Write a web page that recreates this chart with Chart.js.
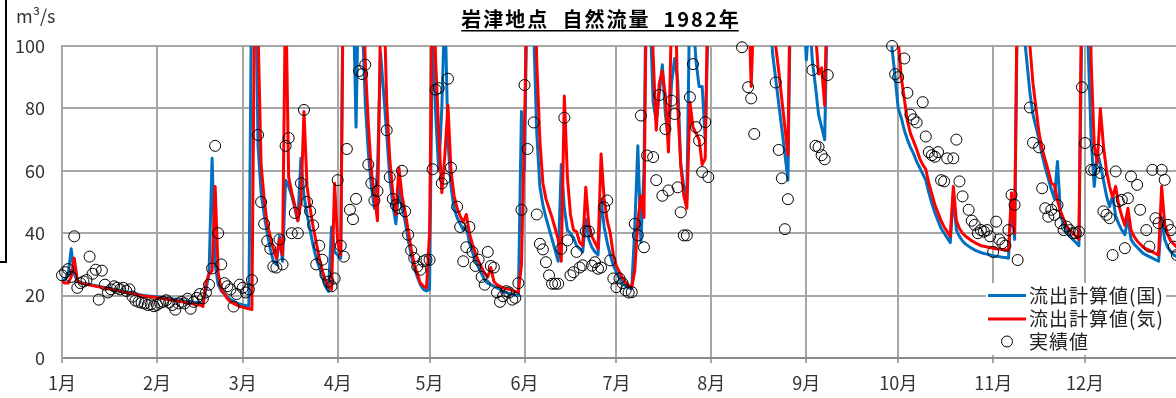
<!DOCTYPE html>
<html><head><meta charset="utf-8">
<script src="https://cdn.jsdelivr.net/npm/chart.js@4.4.1/dist/chart.umd.min.js"></script>
<style>
html,body{margin:0;padding:0;background:#fff;overflow:hidden;width:1176px;height:398px;}
#wrap{position:relative;width:1200px;height:398px;}
#frame{position:absolute;left:0;top:0;width:5px;height:261px;border-right:2px solid #000;border-bottom:2px solid #000;}
</style></head><body>
<div id="wrap"><canvas id="c" width="1200" height="398"></canvas><div id="frame"></div></div>
<script>
const titleText = '岩津地点  自然流量  1982年';
const unitText = 'm³/s';
const monthLabels = ['1月','2月','3月','4月','5月','6月','7月','8月','9月','10月','11月','12月'];
const monthStart = [0,31,59,90,120,151,181,212,243,273,304,334];
const yTicks = [0,20,40,60,80,100];
const seriesNames = ['流出計算値(国)','流出計算値(気)','実績値'];

// 流出計算値(国)  daily, Jan 1 .. Dec 31
const kuni = [
 25,25,26.5,35,27,24.5,24.2,24,23.8,23.6,23.4,23.2,23,22.8,22.6,22.4,22.2,22,21.8,21.6,21.4,21.2,21,20.8,20.6,20.4,20.2,20,19.9,19.8,19.7,
 19.6,19.5,19.3,19.2,19,18.9,18.8,18.6,18.5,18.3,18.2,18.1,17.9,17.8,17.7,17.6,22,27,64,30,23.5,21.5,20.5,19.5,18.8,18.2,17.7,17.3,
 17,16.8,16.5,130,140,68,53,46,40,35,31,30,39,31,57,55,52,48,44,64,52,46,41,36,32,29,26,23,21.3,42,34,
 33,32,150,180,150,120,74,130,110,82,66,55,48,60,98,85,72,58,49,43,55,48,44,38,33,29,26,23.5,22,21.5,
 22,110,78,60,80,115,70,55,48,45,43,41,42,37,34,31,29,27,25,24,23.5,23,22.5,22,21.3,21,20.7,20.4,20.2,20,79,
 60,130,140,105,72,55,49,45,41.5,38,34.5,31,62,48,41,40,38.5,36,35,34,44.5,38,35.5,34,33,51,42,37,33,29.7,
 27.5,25.5,24,23,22.5,22.2,42,68,37,60,150,110,82,76,85,94,78,70,88,96,89,62,55,51,120,110,95,87,87,70,110,
 150,170,160,140,130,150,180,200,170,150,140,130,120,105,120,150,160,150,130,112,97.5,89.5,81.5,73.5,65.5,57,130,160,150,130,115,
 95.5,110,95,87,78,74,70,120,160,180,170,160,150,170,190,180,160,150,140,150,160,150,140,130,140,150,130,115,99,90,
 80,77,73,70,67.5,65.5,63,61,59,57,53,49.5,46.5,44,41.5,40,38.5,37,52,41,39,37.5,36.5,35.8,35.2,34.6,34.2,33.8,33.5,33.3,33,
 32.8,32.6,32.5,32.3,32.2,32,51,38,120,110,105,95,85,78,74,70,65,61,57.5,54,51,63,46,42.5,40.5,39,38,37,36,110,
 140,100,70,55,66,62,57,52,48.5,52,45.5,43,41,39.5,45,38,36.5,35.5,34.5,33.5,33,32.5,32,31.5,31,45,38,35.5,34,33,32.5
];

// 流出計算値(気)
const ki = [
 24.5,24,24,26,32,25,24,23.8,23.6,23.4,23.2,23,22.8,22.6,22.4,22.2,22,21.8,21.6,21.4,21.2,21,20.8,20.6,20.4,20.2,20,19.8,19.7,19.6,19.5,
 19.4,19.2,19,18.9,18.7,18.5,18.4,18.2,18,17.9,17.7,17.5,17.3,17.1,17,16.5,24,27,28,55,27,22,20.5,19,18,17.5,17,16.5,
 16.3,16,15.8,15.5,130,105,62,51,43,39,35,32,38,33,120,58,53,49,44,50,79,55,48,42,37,32,28,25,23,22,56,
 37,33,140,190,160,130,110,120,130,95,75,60,52,44,110,120,82,64,53,46,61,52,47,41,35,30,27,24,23,22.5,
 40,130,95,72,53,65,81,60,52,48,45.5,43.5,46,40,36.5,33.5,31,29,27,26,29,24.5,23.5,23,22.5,22.2,22,21.7,21.3,21,30,
 74,130,150,140,95,70,56,51,48,45,41.5,38,31,84,58,46,41,40.5,37,36,54.7,42.5,39,37,35,65.4,51,44,40,33,
 29.5,27.5,25.5,24.3,23.2,22.7,28,44,52,45,140,130,97,73,88,92,84,66,110,130,81,62,52,48,82,74,72,70,62,64,130,
 150,180,170,150,140,160,190,210,180,160,150,140,120,87,115,160,170,160,140,125,110,100,92,83,74,65,140,170,160,140,125,
 130,120,110,104,91,93,81,130,170,190,180,170,160,180,200,190,170,160,150,160,170,160,150,140,150,160,150,135,120,110,
 102,90,83,76,72,69.5,67,64,62,60.5,56,52.5,49,46.5,44,42,40.5,39,55,44,41.5,40,39,38.3,37.6,37,36.5,36,35.8,35.6,35.4,
 35.2,35,34.9,34.8,34.7,34.5,53,40,130,120,115,130,100,88,80,72,67,63.5,60,56,55.5,50.5,47,44.5,42,41,40,39,38,130,
 150,150,95,68,62.5,80,68,60,55,51.5,55,49,45.5,42.5,48,41,39,37.5,36.5,35.5,35,34.5,34,33.5,33,55,43,39.5,37.5,36.5,35.5
];

// 実績値 (null = no mark shown)
const jisseki = [
 26.5,27.5,28.5,26,39,22.5,24,24.5,25,32.5,27,28.3,18.7,28,23.5,21,22,23,22.5,22,22.5,21.5,22,19.7,18.4,18,17.7,17.5,17,17.2,16.6,
 17,17.7,18,18.5,17.8,17,15.5,17.5,18,17.5,19,15.8,18,19.3,20.5,19.1,21,23.5,28.7,68,40,30,24,23,22,16.5,20.5,23.5,
 22.5,21,22,25,null,71.5,50,43,37.5,35,29.3,29,38,30,68,70.5,40,46.5,40,56,79.5,50,47,42.5,30,36,31.5,26.7,24.5,23,25.5,
 57,36,32.5,67,47.5,44.5,51,92,91,94,62,56,50.5,53.5,null,null,73,58,51,49,48,60,47,39.5,34.5,32,29.3,28.3,31,31.5,
 31.5,60.5,86,86.5,56,57.5,89.5,61,null,48.5,42,31,35.5,42,34,29.5,31.5,26,23.5,34,29.5,29,21,18,19.8,21.4,21,18.7,19.3,24,47.5,
 87.5,67,null,75.5,46,36.6,34.8,30.7,26.5,23.8,23.8,23.8,35,77,37.7,26.5,27.5,34,29,29.7,40.6,40.6,29.6,30.7,28.6,29,48.3,50.5,31.3,25.5,
 22.7,25.5,24,21.7,21,21.1,43,39.3,77.7,35.5,64.9,null,64.4,57,84.3,52,73.4,53.7,82.5,78.2,54.7,46.7,39.3,39.3,83.6,94.2,74,69.7,59.6,75.6,58,
 null,null,null,null,null,null,null,null,null,null,99.6,null,86.8,83.2,71.8,null,null,null,null,null,null,88.3,66.7,57.6,41.3,50.9,null,null,null,null,null,
 null,null,92.3,68,67.6,65,63.7,90.7,null,null,null,null,null,null,null,null,null,null,null,null,null,null,null,null,null,null,null,null,100,91,
 90,null,96,85,78,76.5,75.5,null,82,71,66,65,64.5,66,57,56.6,64,null,64,70,56.6,51.8,null,47.5,44,42.7,40,41,40.5,41,39,
 34,43.7,38,36.8,36,41,52.3,49.1,31.4,null,null,null,80.3,69,null,67.5,54.4,48,45.3,47.5,45.9,49,43.2,41,42.1,41,40,40,40.5,86.8,
 68.9,null,60.3,60.3,66.7,59.3,47,45.9,44.8,33,59.8,50.2,50.7,35.2,51.2,58.2,null,55.5,47.5,null,41,35.7,60.3,44.8,43.2,60.3,57.1,42.7,41,35.7,33
];

const FONT = '"Noto Sans CJK JP", "Noto Sans", sans-serif';
const toXY = arr => arr.map((v, i) => ({x: i, y: v}));
const BLUE = '#0070C0', RED = '#FF0000';

const decor = {
  id: 'decor',
  afterDraw(chart) {
    const ctx = chart.ctx;
    ctx.save();
    // legend box
    ctx.fillStyle = '#fff';
    ctx.fillRect(986, 283, 180, 72);
    const rows = [296, 319, 342];
    ctx.lineCap = 'butt';
    ctx.lineWidth = 3;
    ctx.strokeStyle = BLUE;
    ctx.beginPath(); ctx.moveTo(988, 295.5); ctx.lineTo(1026, 295.5); ctx.stroke();
    ctx.strokeStyle = RED;
    ctx.beginPath(); ctx.moveTo(988, 319); ctx.lineTo(1026, 319); ctx.stroke();
    ctx.lineWidth = 1; ctx.strokeStyle = '#000';
    ctx.beginPath(); ctx.arc(1007, 341.5, 5.5, 0, Math.PI * 2); ctx.stroke();
    ctx.fillStyle = '#222';
    ctx.font = '19px ' + FONT;
    ctx.textAlign = 'left';
    ctx.textBaseline = 'middle';
    if ('letterSpacing' in ctx) ctx.letterSpacing = '1px';
    seriesNames.forEach((t, i) => ctx.fillText(t, 1029, rows[i]));
    // title
    ctx.fillStyle = '#000';
    ctx.font = 'bold 20px ' + FONT;
    ctx.textBaseline = 'alphabetic';
    if ('letterSpacing' in ctx) ctx.letterSpacing = '2px';
    const tw = ctx.measureText(titleText).width;
    const tx = 601 - tw / 2;
    ctx.fillText(titleText, tx, 27);
    ctx.fillRect(tx, 30, tw - 2, 1.5);
    if ('letterSpacing' in ctx) ctx.letterSpacing = '0px';
    // unit
    ctx.fillStyle = '#333';
    ctx.font = '18px ' + FONT;
    ctx.fillText(unitText, 16, 23);
    ctx.restore();
  }
};

new Chart(document.getElementById('c'), {
  type: 'line',
  data: {
    datasets: [
      { label: seriesNames[2], data: toXY(jisseki), showLine: false, pointRadius: 5.5, pointHoverRadius: 5.5,
        pointBorderWidth: 1, pointBorderColor: '#000', pointBackgroundColor: 'rgba(0,0,0,0)', borderColor: '#000', clip: false, order: 0 },
      { label: seriesNames[1], data: toXY(ki), borderColor: RED, borderWidth: 3, pointRadius: 0, tension: 0,
        borderJoinStyle: 'round', borderCapStyle: 'round', clip: 0, order: 1 },
      { label: seriesNames[0], data: toXY(kuni), borderColor: BLUE, borderWidth: 3, pointRadius: 0, tension: 0,
        borderJoinStyle: 'round', borderCapStyle: 'round', clip: 0, order: 2 }
    ]
  },
  options: {
    responsive: false,
    animation: false,
    devicePixelRatio: 1,
    layout: { padding: { top: 46, right: 20, left: 0, bottom: 0 } },
    plugins: { legend: { display: false }, tooltip: { enabled: false }, title: { display: false } },
    scales: {
      x: {
        type: 'linear', min: 0, max: 365,
        afterBuildTicks: s => { s.ticks = monthStart.map(v => ({ value: v })); },
        afterFit: s => { s.height = 40; },
        ticks: { autoSkip: false, maxRotation: 0, minRotation: 0, padding: 9, color: '#333',
          font: { family: FONT, size: 18 },
          callback: v => monthLabels[monthStart.indexOf(v)] },
        grid: { color: '#a6a6a6', lineWidth: 2, drawTicks: true, tickLength: 5, tickColor: '#a6a6a6' },
        border: { display: true, color: '#8c8c8c', width: 2 }
      },
      y: {
        min: 0, max: 100,
        afterBuildTicks: s => { s.ticks = yTicks.map(v => ({ value: v })); },
        afterFit: s => { s.width = 62; },
        ticks: { padding: 17, color: '#333', font: { family: FONT, size: 18 } },
        grid: { color: '#a6a6a6', lineWidth: 2, drawTicks: false },
        border: { display: true, color: '#a6a6a6', width: 2 }
      }
    }
  },
  plugins: [decor]
});
</script>
</body></html>
